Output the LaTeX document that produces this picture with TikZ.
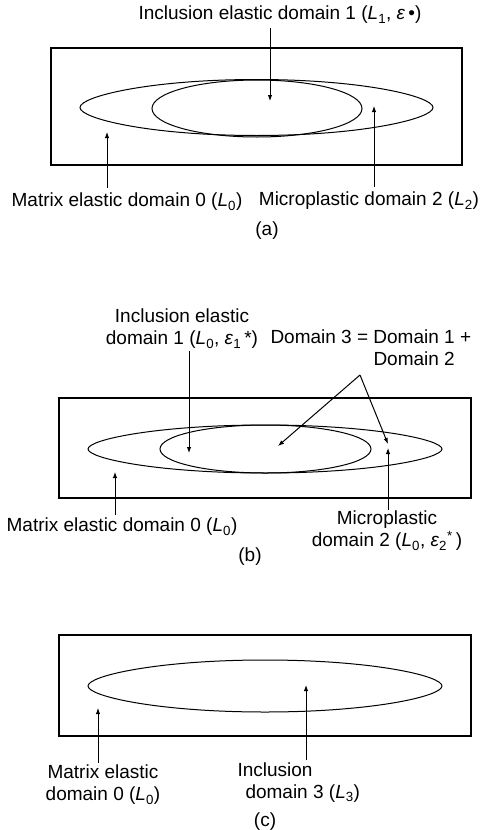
\documentclass[tikz,border=0pt]{standalone}
\usepackage{fontspec}
\setmainfont{Liberation Sans}
\usetikzlibrary{arrows.meta}

% lens shaped domain: centre x, centre y, half length, half height
\newcommand{\lens}[4]{%
  \draw (#1-#3,#2) .. controls (#1-#3,#2-0.4*#4) and (#1-0.6*#3,#2-#4) .. (#1,#2-#4)
    .. controls (#1+0.6*#3,#2-#4) and (#1+#3,#2-0.4*#4) .. (#1+#3,#2)
    .. controls (#1+#3,#2+0.4*#4) and (#1+0.6*#3,#2+#4) .. (#1,#2+#4)
    .. controls (#1-0.6*#3,#2+#4) and (#1-#3,#2+0.4*#4) .. cycle;}

\begin{document}
\begin{tikzpicture}[x=1pt, y=-1pt, line width=1pt,
    lbl/.style={inner sep=0pt, font=\fontsize{19}{22}\selectfont, align=center},
    arr/.style={-{Latex[length=6pt,width=4.5pt]}}]
  \useasboundingbox (0,0) rectangle (488,830);

  % (a) inclusion in matrix with microplastic zone
  \draw[line width=1.2pt] (51,48) rectangle (462,165);
  \lens{256.5}{107.5}{176.5}{28}
  \draw (257,108.5) ellipse [x radius=105, y radius=28.5];
  \node[lbl] (incA) at (280,15) {Inclusion elastic domain 1 (\textit{L}\textsubscript{1}, \textit{ε}\,•)};
  \node[lbl] (matA) at (127,202) {Matrix elastic domain 0 (\textit{L}\textsubscript{0})};
  \node[lbl] (micA) at (369,201) {Microplastic domain 2 (\textit{L}\textsubscript{2})};
  \node[lbl] (capA) at (267,231) {(a)};
  \coordinate (incAtip) at (270,101);
  \coordinate (matAtip) at (107,132);
  \coordinate (micAtip) at (374,106);
  \draw[arr] (incA.south -| incAtip) ++(0,4) -- (incAtip);
  \draw[arr] (matA.north -| matAtip) ++(0,-5) -- (matAtip);
  \draw[arr] (micA.north -| micAtip) ++(0,-5) -- (micAtip);

  % (b) equivalent eigenstrain problem
  \draw[line width=1.2pt] (59,398) rectangle (471,498);
  \lens{265}{449}{177}{24}
  \draw (265.5,449) ellipse [x radius=105.5, y radius=24];
  \node[lbl] (incB) at (182,329) {Inclusion elastic\\domain 1 (\textit{L}\textsubscript{0}, \textit{ε}\textsubscript{1}\,*)};
  \node[lbl, align=left, anchor=north west] (domB) at (270,329) {Domain 3 = Domain 1 +\\\hspace*{103pt}Domain 2};
  \node[lbl] (matB) at (122,527) {Matrix elastic domain 0 (\textit{L}\textsubscript{0})};
  \node[lbl] (micB) at (387,531) {Microplastic\\domain 2 (\textit{L}\textsubscript{0}, \textit{ε}\textsubscript{2}\textsuperscript{*}\,)};
  \node[lbl] (capB) at (250,557) {(b)};
  \coordinate (incBtip) at (189,453);
  \coordinate (domBtop) at (360,375);
  \coordinate (domBin) at (278,446);
  \coordinate (domBout) at (388,444);
  \coordinate (matBtip) at (115,472);
  \coordinate (micBtip) at (388,448);
  \draw[arr] (incB.south -| incBtip) ++(0,2) -- (incBtip);
  \draw[arr] (domBtop) -- (domBin);
  \draw[arr] (domBtop) -- (domBout);
  \draw[arr] (matB.north -| matBtip) ++(0,-3) -- (matBtip);
  \draw[arr] (micB.north -| micBtip) ++(0,-1) -- (micBtip);

  % (c) homogenised inclusion
  \draw[line width=1.2pt] (59,635) rectangle (471,736);
  \lens{265}{686}{177}{26}
  \node[lbl] (matC) at (103,785) {Matrix elastic\\domain 0 (\textit{L}\textsubscript{0})};
  \node[lbl, align=left, anchor=north west] (incC) at (237,762) {Inclusion\\\hspace*{8pt}domain 3 (\textit{L}\textsubscript{3})};
  \node[lbl] (capC) at (265,822) {(c)};
  \coordinate (matCtip) at (98,708);
  \coordinate (incCtip) at (306,685);
  \draw[arr] (matC.north -| matCtip) ++(0,-2) -- (matCtip);
  \draw[arr] (incC.north -| incCtip) ++(0,-2) -- (incCtip);
\end{tikzpicture}
\end{document}
